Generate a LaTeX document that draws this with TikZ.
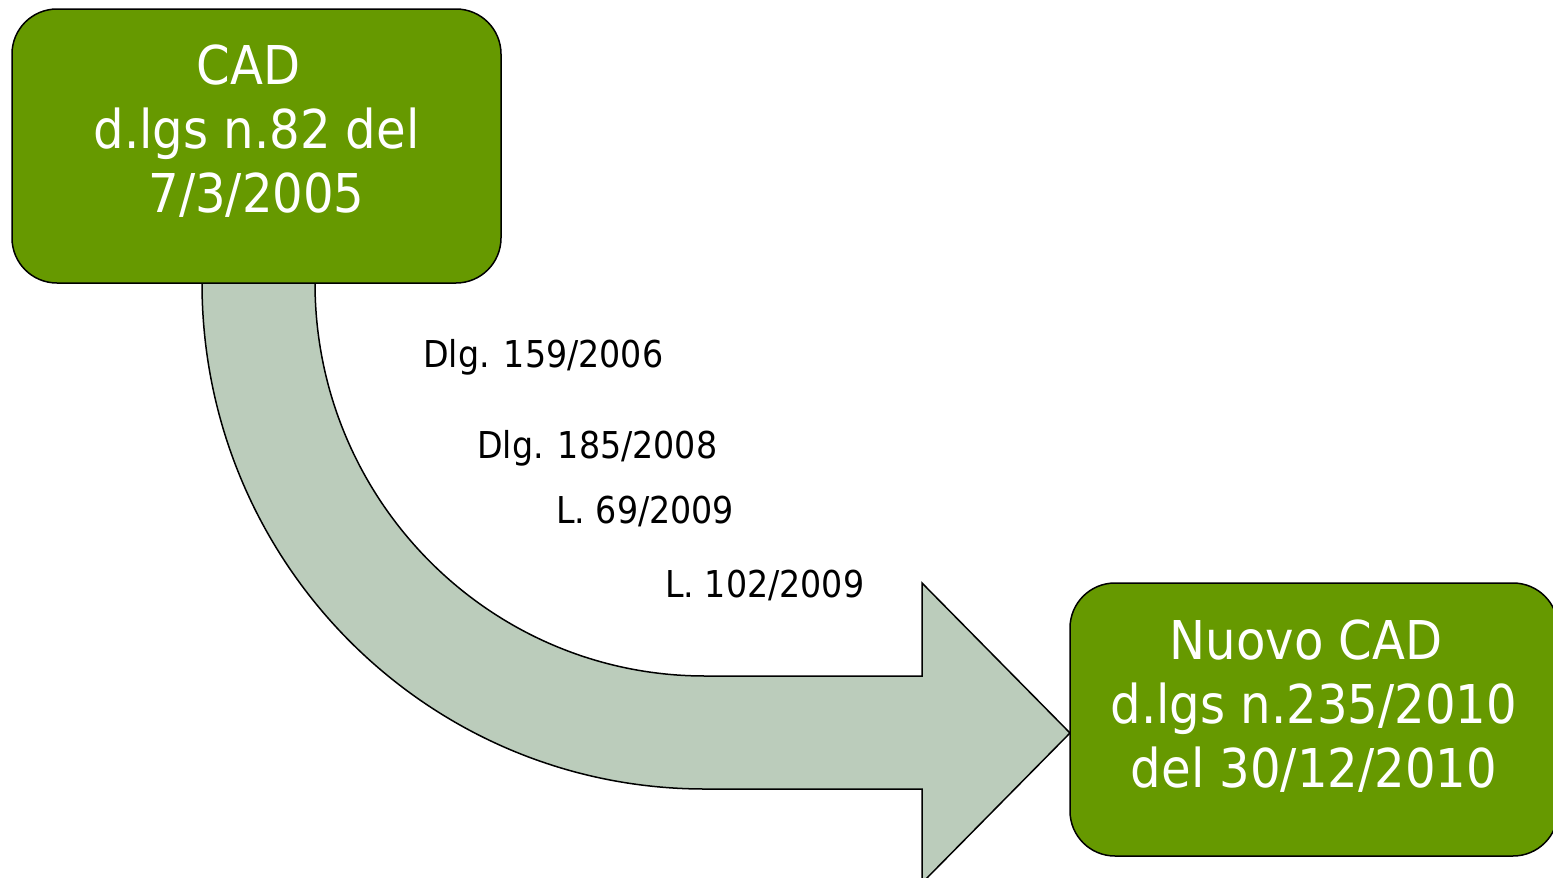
\documentclass[tikz,border=0pt]{standalone}
\usepackage{fontspec}
\setmainfont{DejaVu Sans Condensed}
\definecolor{boxgreen}{RGB}{102,153,0}
\definecolor{arrowgray}{RGB}{187,204,187}
\begin{document}
\begin{tikzpicture}[x=1pt,y=-1pt,
  greenbox/.style={draw=black,line width=1.5pt,fill=boxgreen,rounded corners=45pt,inner sep=0pt},
  bigtext/.style={text=white,align=center,inner sep=0pt,font=\fontsize{53.5}{64}\selectfont},
  lawlabel/.style={anchor=base west,inner sep=0pt,font=\fontsize{37}{44}\selectfont}]
\useasboundingbox (0,0) rectangle (1553,878);
\clip (0,0) rectangle (1553,878);
% curved arrow
\draw[line width=1.5pt,fill=arrowgray,line join=miter]
  (202,283) .. controls (202,562.5) and (427.2,789) .. (705,789)
  -- (922,789) -- (922,883) -- (1070,733) -- (922,583) -- (922,676) -- (705,676)
  .. controls (489.6,676) and (315,500) .. (315,283) -- cycle;
% boxes
\node[greenbox,minimum width=489pt,minimum height=274pt] (cad) at (256.5,146) {};
\node[greenbox,minimum width=488pt,minimum height=273pt] (nuovo) at (1314,719.5) {};
\node[bigtext] (cadtext) at (256.5,131) {CAD\kern0.29em\\d.lgs n.82 del\\7/3/2005};
\node[bigtext] (nuovotext) at (1314,706) {Nuovo CAD\kern0.29em\\d.lgs n.235/2010\\del 30/12/2010};
% labels
\node[lawlabel] (l1) at (423,367) {Dlg. 159/2006};
\node[lawlabel] (l2) at (477,458) {Dlg. 185/2008};
\node[lawlabel] (l3) at (556,523) {L. 69/2009};
\node[lawlabel] (l4) at (665,597) {L. 102/2009};
\end{tikzpicture}
\end{document}
